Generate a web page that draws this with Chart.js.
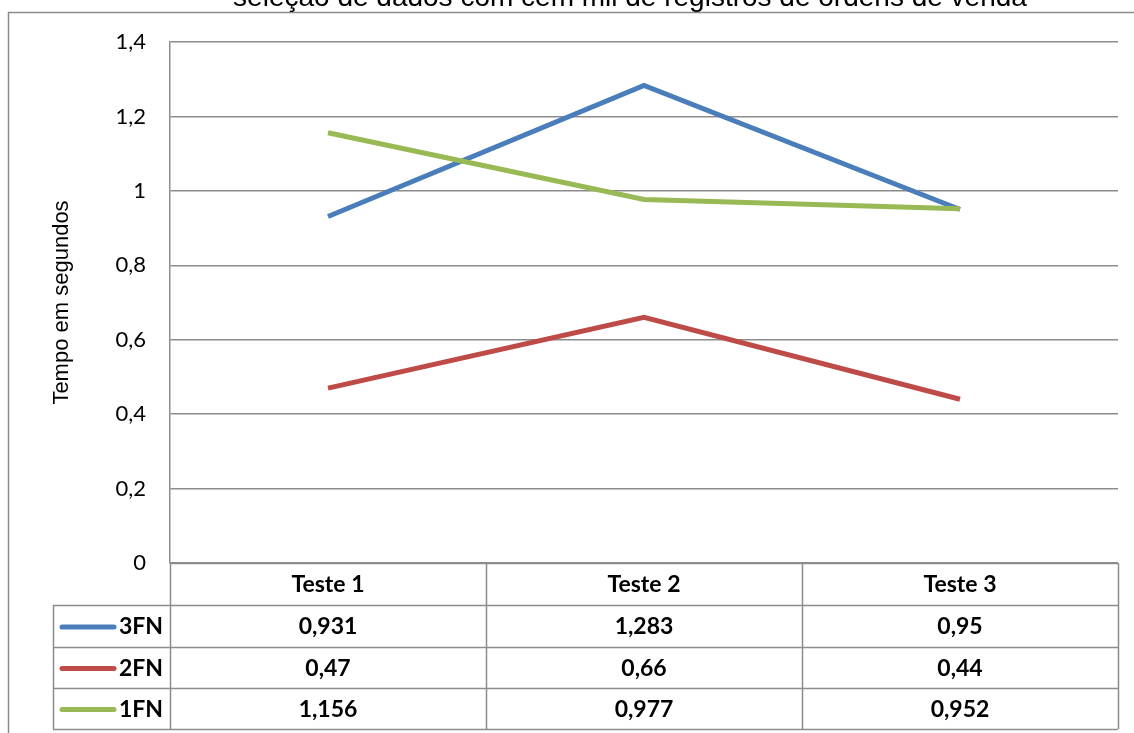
<!DOCTYPE html>
<html>
<head>
<meta charset="utf-8">
<script src="https://cdn.jsdelivr.net/npm/chart.js@4"></script>
<style>
  html, body { margin: 0; padding: 0; background: #fff; }
  #wrap { width: 1134px; height: 733px; }
</style>
</head>
<body>
<div id="wrap"><canvas id="chart" width="1134" height="733"></canvas></div>
<script>
// chart data
const chartTitle = 'seleção de dados com cem mil de registros de ordens de venda';
const categories = ['Teste 1', 'Teste 2', 'Teste 3'];
const seriesNames = ['3FN', '2FN', '1FN'];
const values3FN = [0.931, 1.283, 0.95];
const values2FN = [0.47, 0.66, 0.44];
const values1FN = [1.156, 0.977, 0.952];
const seriesColors = ['#4a7ebb', '#be4b48', '#98b954'];
const yTicks = [0, 0.2, 0.4, 0.6, 0.8, 1, 1.2, 1.4];

const GRID = '#8c8c8c';
const calibri = 'Lato, "Open Sans", sans-serif';
const arial = '"Liberation Sans", Arial, sans-serif';

const fmt = v => String(v).replace('.', ',');

// frame + title + data table under the plot
const tablePlugin = {
  id: 'dataTable',
  afterDraw(chart) {
    const ctx = chart.ctx;
    const area = chart.chartArea;
    const xs = chart.scales.x;
    const rowH = [42, 42, 41, 41];
    const legendLeft = 53;
    const bandW = (area.right - area.left) / categories.length;

    ctx.save();
    // outer frame
    ctx.strokeStyle = GRID;
    ctx.lineWidth = 1.5;
    ctx.beginPath();
    ctx.moveTo(8.5, 733);
    ctx.lineTo(8.5, 12.5);
    ctx.lineTo(1134, 12.5);
    ctx.stroke();

    // title (cut by the top of the picture)
    ctx.fillStyle = '#000';
    ctx.font = '28px ' + arial;
    ctx.textAlign = 'center';
    ctx.textBaseline = 'alphabetic';
    ctx.fillText(chartTitle, 630, 6);

    // table grid
    let y = area.bottom;
    const rowsY = [y];
    rowH.forEach(h => { y += h; rowsY.push(y); });
    ctx.strokeStyle = GRID;
    ctx.lineWidth = 1.5;
    ctx.beginPath();
    rowsY.forEach((ry, i) => {
      const x0 = i === 0 ? area.left : legendLeft;
      ctx.moveTo(x0, ry + 0.5);
      ctx.lineTo(area.right, ry + 0.5);
    });
    ctx.moveTo(legendLeft + 0.5, rowsY[1]);
    ctx.lineTo(legendLeft + 0.5, rowsY[4]);
    for (let i = 0; i <= categories.length; i++) {
      const vx = Math.round(area.left + i * bandW) + 0.5;
      ctx.moveTo(vx, area.bottom);
      ctx.lineTo(vx, rowsY[4]);
    }
    ctx.stroke();

    // header
    ctx.fillStyle = '#000';
    ctx.font = 'bold 23px ' + calibri;
    ctx.textBaseline = 'middle';
    ctx.textAlign = 'center';
    categories.forEach((c, i) => {
      ctx.fillText(c, xs.getPixelForValue(i), (rowsY[0] + rowsY[1]) / 2 + 1);
    });

    // rows
    chart.data.datasets.forEach((ds, r) => {
      const cy = (rowsY[r + 1] + rowsY[r + 2]) / 2 + 1;
      ctx.strokeStyle = ds.borderColor;
      ctx.lineWidth = 5;
      ctx.lineCap = 'round';
      ctx.beginPath();
      ctx.moveTo(62, cy);
      ctx.lineTo(114, cy);
      ctx.stroke();
      ctx.fillStyle = '#000';
      ctx.textAlign = 'right';
      ctx.fillText(ds.label, 163, cy);
      ctx.textAlign = 'center';
      ds.data.forEach((v, i) => {
        ctx.fillText(fmt(v), xs.getPixelForValue(i), cy);
      });
    });
    ctx.restore();
  }
};

const seriesValues = [values3FN, values2FN, values1FN];

new Chart(document.getElementById('chart'), {
  type: 'line',
  data: {
    labels: categories,
    datasets: seriesNames.map((name, i) => ({
      label: name,
      data: seriesValues[i],
      borderColor: seriesColors[i],
      backgroundColor: seriesColors[i],
      borderWidth: 5,
      pointRadius: 0,
      tension: 0,
      order: seriesNames.length - i
    }))
  },
  options: {
    responsive: false,
    animation: false,
    layout: { padding: { top: 42, right: 16, bottom: 170, left: 0 } },
    plugins: {
      legend: { display: false },
      tooltip: { enabled: false },
      title: { display: false }
    },
    scales: {
      x: {
        display: false,
        offset: true,
        grid: { display: false }
      },
      y: {
        min: 0,
        max: 1.4,
        afterFit(scale) { scale.width = 170; },
        afterBuildTicks(scale) { scale.ticks = yTicks.map(v => ({ value: v })); },
        grid: { color: GRID, lineWidth: 1.5, drawTicks: false },
        border: { display: true, color: GRID, width: 1.5 },
        ticks: {
          color: '#000',
          padding: 24,
          font: { family: calibri, size: 22 },
          callback: v => fmt(v)
        },
        title: {
          display: true,
          text: 'Tempo em segundos',
          color: '#000',
          font: { family: arial, size: 22 },
          padding: { top: 49, bottom: 0 }
        }
      }
    }
  },
  plugins: [tablePlugin]
});
</script>
</body>
</html>
